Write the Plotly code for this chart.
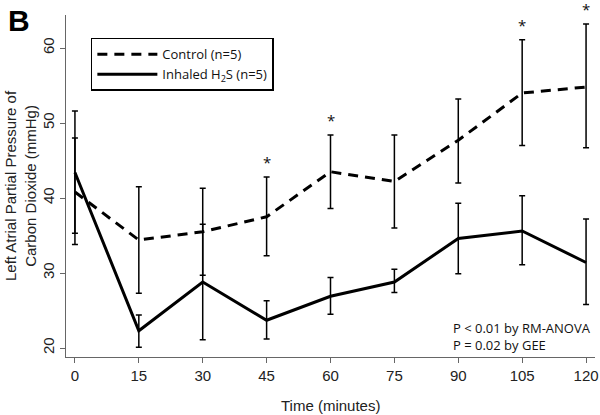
import plotly.graph_objects as go

# data
times = [0, 15, 30, 45, 60, 75, 90, 105, 120]

control_mean = [40.8, 34.4, 35.5, 37.5, 43.5, 42.2, 47.7, 54.0, 54.8]
control_upper = [48.0, 41.5, 41.3, 42.8, 48.4, 48.4, 53.2, 61.1, 63.2]
control_lower = [35.3, 27.3, 29.7, 32.3, 38.6, 36.0, 42.0, 47.0, 46.7]

h2s_mean = [43.4, 22.3, 28.8, 23.7, 26.9, 28.8, 34.6, 35.6, 31.4]
h2s_upper = [51.6, 24.4, 36.5, 26.3, 29.4, 30.5, 39.3, 40.3, 37.2]
h2s_lower = [33.8, 20.1, 21.1, 21.2, 24.5, 27.4, 29.9, 31.1, 25.8]

star_times = [45, 60, 105, 120]

xtick_vals = times
ytick_vals = [20, 30, 40, 50, 60]

axis_font = dict(family="Liberation Sans, Arial", size=15, color="#222")
tick_font = dict(family="Liberation Sans, Arial", size=15, color="#222")
note_font = dict(family="Open Sans", size=13, color="#111")


def err(mean, upper, lower):
    return dict(type="data", symmetric=False,
                array=[u - m for u, m in zip(upper, mean)],
                arrayminus=[m - l for m, l in zip(mean, lower)],
                color="black", thickness=1.5, width=3)


fig = go.Figure()
fig.add_trace(go.Scatter(
    x=times, y=control_mean, mode="lines", name="Control (n=5)",
    line=dict(color="black", width=3, dash="10px,7px"),
    error_y=err(control_mean, control_upper, control_lower)))
fig.add_trace(go.Scatter(
    x=times, y=h2s_mean, mode="lines", name="Inhaled H<sub>2</sub>S (n=5)",
    line=dict(color="black", width=3),
    error_y=err(h2s_mean, h2s_upper, h2s_lower)))

# significance stars above control error bars
for t in star_times:
    i = times.index(t)
    fig.add_annotation(x=t, y=control_upper[i], text="*", showarrow=False,
                       yanchor="bottom", yshift=3,
                       font=dict(family="Open Sans", size=15, color="#111"))

fig.add_annotation(x=1, y=0, xref="paper", yref="paper", xanchor="right",
                   yanchor="bottom", showarrow=False, align="left", xshift=-2, yshift=1,
                   text="P < 0.01 by RM-ANOVA<br>P = 0.02 by GEE", font=note_font)

fig.add_annotation(x=0, y=1, xref="paper", yref="paper", xanchor="left", yanchor="top",
                   showarrow=False, xshift=-60, yshift=13, text="<b>B</b>",
                   font=dict(family="Liberation Sans, Arial", size=30, color="black"))

# axis titles
fig.add_annotation(x=0, y=0.5, xref="paper", yref="paper", xanchor="center",
                   yanchor="middle", showarrow=False, textangle=-90, xshift=-46,
                   text="Left Atrial Partial Pressure of<br>Carbon Dioxide (mmHg)",
                   font=axis_font)
fig.add_annotation(x=0.5, y=0, xref="paper", yref="paper", xanchor="center",
                   yanchor="middle", showarrow=False, yshift=-48,
                   text="Time (minutes)", font=axis_font)

fig.update_layout(
    width=600, height=415,
    margin=dict(l=66, r=5, t=15, b=58),
    paper_bgcolor="white", plot_bgcolor="white",
    showlegend=True,
    legend=dict(x=0.047, y=0.933, xanchor="left", yanchor="top",
                bordercolor="black", borderwidth=1.5, bgcolor="white",
                font=dict(family="Open Sans", size=13, color="#111"),
                itemwidth=60, tracegroupgap=0, traceorder="normal"),
    xaxis=dict(range=[-2.1, 122.1], tickvals=xtick_vals, ticks="outside",
               ticklen=5, tickcolor="#666", showline=True, linecolor="#666",
               linewidth=1.2, showgrid=False, zeroline=False, tickfont=tick_font,
               automargin=False),
    yaxis=dict(range=[18.8, 64.4], tickvals=ytick_vals, ticks="outside",
               ticklen=5, tickcolor="#666", showline=True, linecolor="#666",
               linewidth=1.2, showgrid=False, zeroline=False, tickfont=tick_font,
               tickangle=-90, automargin=False),
)

fig.write_html("out.html", config={"displayModeBar": False},
               post_script="document.body.style.margin='0';")
